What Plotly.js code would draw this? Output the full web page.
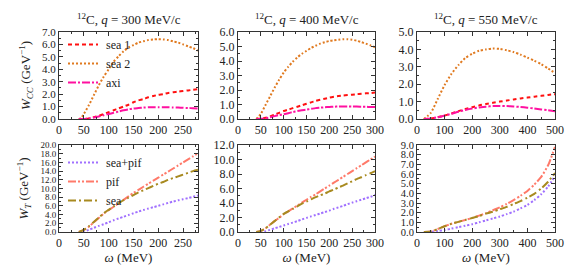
<!DOCTYPE html>
<html><head><meta charset="utf-8">
<script src="https://cdn.plot.ly/plotly-3.0.1.min.js"></script>
<style>html,body{margin:0;padding:0;background:#fff}#c{width:568px;height:273px}</style>
</head><body><div id="c"></div>
<script>
// ---- Panel 1 (q=300) W_CC ----
const w1 = [40,45,50,60,70,80,90,100,110,120,130,140,150,160,170,180,190,200,210,220,230,240,250,260,270,280];
const p1_sea2 = [0,0.1,0.4,1.1,1.9,2.7,3.4,4.0,4.6,5.05,5.45,5.75,5.95,6.15,6.25,6.35,6.4,6.42,6.4,6.35,6.25,6.15,6.0,5.85,5.7,5.5];
const p1_sea1 = [0,0,0,0.05,0.15,0.25,0.4,0.55,0.7,0.85,1.0,1.15,1.35,1.5,1.6,1.75,1.85,1.95,2.0,2.1,2.15,2.2,2.25,2.3,2.35,2.4];
const p1_axi  = [0,0,0,0.05,0.12,0.2,0.3,0.4,0.5,0.6,0.7,0.78,0.84,0.88,0.92,0.94,0.95,0.95,0.95,0.94,0.93,0.92,0.9,0.88,0.87,0.85];
// ---- Panel 2 (q=400) W_CC ----
const w2 = [40,50,60,70,80,90,100,110,120,130,140,150,160,170,180,190,200,210,220,230,240,250,260,270,280,290,300];
const p2_sea2 = [0,0.35,0.95,1.55,2.15,2.7,3.2,3.6,3.95,4.25,4.5,4.7,4.9,5.05,5.2,5.3,5.38,5.43,5.47,5.5,5.5,5.47,5.4,5.3,5.2,5.08,4.95];
const p2_sea1 = [0,0.02,0.08,0.18,0.3,0.42,0.55,0.65,0.75,0.85,0.95,1.05,1.15,1.25,1.33,1.4,1.47,1.53,1.58,1.62,1.65,1.68,1.71,1.74,1.77,1.79,1.82];
const p2_axi  = [0,0.01,0.05,0.12,0.2,0.27,0.33,0.4,0.48,0.55,0.6,0.65,0.7,0.75,0.78,0.81,0.83,0.85,0.86,0.87,0.87,0.86,0.86,0.85,0.84,0.83,0.82];
// ---- Panel 3 (q=550) W_CC ----
const w3 = [25,50,75,100,125,150,175,200,225,250,275,300,325,350,375,400,425,450,475,500];
const p3_sea2 = [0,0.35,1.15,1.95,2.6,3.1,3.5,3.75,3.92,4.0,4.05,4.03,3.95,3.85,3.7,3.53,3.35,3.15,2.9,2.65];
const p3_sea1 = [0,0.03,0.1,0.2,0.32,0.45,0.57,0.68,0.78,0.86,0.93,1.0,1.06,1.12,1.18,1.23,1.28,1.33,1.38,1.43];
const p3_axi  = [0,0.03,0.1,0.2,0.3,0.42,0.52,0.6,0.66,0.71,0.74,0.75,0.74,0.72,0.69,0.65,0.6,0.55,0.5,0.45];
// ---- Panel 4 (q=300) W_T ----
const w4 = [40,50,60,70,80,90,100,110,120,130,140,150,160,170,180,190,200,210,220,230,240,250,260,270,280];
const p4_pif = [0,0.5,1.2,2.2,3.2,4.2,5.0,5.8,6.6,7.4,8.2,9.0,9.7,10.4,11.1,11.8,12.5,13.2,13.9,14.6,15.3,16.0,16.7,17.4,18.1];
const p4_sea = [0,0.5,1.3,2.3,3.3,4.3,5.1,5.9,6.6,7.3,7.9,8.5,9.1,9.6,10.1,10.6,11.1,11.5,12.0,12.4,12.8,13.2,13.6,14.0,14.3];
const p4_sp  = [0,0.1,0.5,0.95,1.4,1.8,2.25,2.7,3.1,3.5,3.9,4.3,4.7,5.05,5.4,5.7,6.0,6.35,6.7,7.0,7.3,7.55,7.8,8.1,8.4];
// ---- Panel 5 (q=400) W_T ----
const w5 = [40,50,60,70,80,90,100,110,120,130,140,150,160,170,180,190,200,210,220,230,240,250,260,270,280,290,300];
const p5_pif = [0,0.15,0.5,1.0,1.5,1.95,2.45,2.85,3.25,3.65,4.05,4.45,4.85,5.2,5.6,6.0,6.4,6.8,7.2,7.6,8.0,8.4,8.8,9.2,9.6,10.0,10.4];
const p5_sea = [0,0.15,0.5,1.0,1.5,2.0,2.5,2.85,3.2,3.55,3.9,4.2,4.5,4.8,5.05,5.3,5.6,5.85,6.15,6.4,6.7,7.0,7.3,7.55,7.85,8.1,8.4];
const p5_sp  = [0,0,0.1,0.3,0.5,0.7,0.9,1.1,1.3,1.5,1.75,1.95,2.15,2.35,2.55,2.75,2.95,3.2,3.4,3.6,3.85,4.05,4.25,4.45,4.65,4.85,5.1];
// ---- Panel 6 (q=550) W_T ----
const w6 = [25,50,75,100,125,150,175,200,225,250,275,300,325,350,375,400,425,450,475,500];
const p6_pif = [0,0.05,0.3,0.6,0.85,1.05,1.25,1.45,1.7,1.95,2.25,2.55,2.9,3.3,3.75,4.25,4.9,5.7,6.9,8.8];
const p6_sea = [0,0.05,0.3,0.6,0.85,1.05,1.25,1.45,1.65,1.9,2.1,2.35,2.6,2.9,3.2,3.55,3.95,4.5,5.2,6.1];
const p6_sp  = [0,0.02,0.1,0.2,0.35,0.5,0.65,0.8,1.0,1.2,1.4,1.6,1.85,2.1,2.45,2.8,3.3,3.9,4.7,5.8];

const names = {sea1:'sea 1', sea2:'sea 2', axi:'axi', sp:'sea+pif', pif:'pif', sea:'sea'};
const titles = ['300','400','550'];

const sty = {
  sea1:{color:'#ff1010', dash:'4px,3px', width:2},
  sea2:{color:'#e07a20', dash:'2px,2px', width:2},
  axi:{color:'#ff10a0', dash:'8px,2px,2px,2px', width:2},
  sp:{color:'#a070ff', dash:'2px,2px', width:2},
  pif:{color:'#ff7a6a', dash:'8px,2px,2px,2px,2px,2px', width:2},
  sea:{color:'#a88a20', dash:'8px,3px,2px,3px', width:2}
};
function tr(x,y,key,ax,ay,leg,show){
  return {x:x,y:y,type:'scatter',mode:'lines',name:'\u00a0'+names[key],xaxis:ax,yaxis:ay,
    line:Object.assign({shape:'spline',smoothing:0.6},sty[key]),showlegend:show,legend:leg};
}
const data = [
  tr(w1,p1_sea1,'sea1','x','y','legend',true),
  tr(w1,p1_sea2,'sea2','x','y','legend',true),
  tr(w1,p1_axi,'axi','x','y','legend',true),
  tr(w2,p2_sea1,'sea1','x2','y2','legend',false),
  tr(w2,p2_sea2,'sea2','x2','y2','legend',false),
  tr(w2,p2_axi,'axi','x2','y2','legend',false),
  tr(w3,p3_sea1,'sea1','x3','y3','legend',false),
  tr(w3,p3_sea2,'sea2','x3','y3','legend',false),
  tr(w3,p3_axi,'axi','x3','y3','legend',false),
  tr(w4,p4_sp,'sp','x4','y4','legend2',true),
  tr(w4,p4_pif,'pif','x4','y4','legend2',true),
  tr(w4,p4_sea,'sea','x4','y4','legend2',true),
  tr(w5,p5_sp,'sp','x5','y5','legend2',false),
  tr(w5,p5_pif,'pif','x5','y5','legend2',false),
  tr(w5,p5_sea,'sea','x5','y5','legend2',false),
  tr(w6,p6_sp,'sp','x6','y6','legend2',false),
  tr(w6,p6_pif,'pif','x6','y6','legend2',false),
  tr(w6,p6_sea,'sea','x6','y6','legend2',false)
];

const W=568,H=273;
const cols=[[59,198],[238,375],[417,555]];
const rows=[[32,119],[145,232]];
const xr=[[0,280],[0,300],[0,500]];
const xd=[50,50,100];
const yr=[[0,7],[0,6],[0,5],[0,20],[0,12],[0,9]];
const yd=[1,1,1,2,2,1];
const ytf=[11,12,12,9,12,10.5];
const FF='Liberation Serif';
const font={family:FF,size:12,color:'#222'};
const layout={width:W,height:H,margin:{l:0,r:0,t:0,b:0},paper_bgcolor:'#fff',plot_bgcolor:'#fff',
  font:font,annotations:[],
  legend:{x:63/W,y:1-30/H,xanchor:'left',yanchor:'top',bgcolor:'rgba(0,0,0,0)',font:{family:FF,size:12,color:'#222'},tracegroupgap:0,itemwidth:30},
  legend2:{x:63/W,y:1-148/H,xanchor:'left',yanchor:'top',bgcolor:'rgba(0,0,0,0)',font:{family:FF,size:12,color:'#222'},tracegroupgap:0,itemwidth:30}
};
for(let i=0;i<6;i++){
  const c=i%3,r=Math.floor(i/3);
  const sx=i===0?'':String(i+1);
  layout['xaxis'+sx]={domain:[cols[c][0]/W,cols[c][1]/W],anchor:'y'+sx,range:xr[c],dtick:xd[c],tickangle:0,
    ticks:'inside',ticklen:4,tickcolor:'#333',showline:true,linecolor:'#333',linewidth:1,mirror:'ticks',
    showgrid:false,zeroline:false,tickfont:{family:FF,size:12,color:'#222'},
    minor:{ticks:'inside',ticklen:2,dtick:xd[c]/2,tickcolor:'#333'}};
  if(r===1) layout['xaxis'+sx].title={text:'<i>ω</i> (MeV)',font:{family:FF,size:13,color:'#222'},standoff:2};
  layout['yaxis'+sx]={domain:[1-rows[r][1]/H,1-rows[r][0]/H],anchor:'x'+sx,range:yr[i],dtick:yd[i],
    tickformat:'.1f',ticks:'inside',ticklen:4,tickcolor:'#333',showline:true,linecolor:'#333',linewidth:1,mirror:'ticks',
    showgrid:false,zeroline:true,zerolinecolor:'#999',zerolinewidth:2,tickfont:{family:FF,size:ytf[i],color:'#222'},
    minor:{ticks:'inside',ticklen:2,dtick:yd[i]/2,tickcolor:'#333'}};
  if(i===0) layout['yaxis'+sx].title={text:'<i>W<sub>CC</sub></i> (GeV<sup>−1</sup>)',font:{family:FF,size:13,color:'#222'},standoff:8};
  if(i===3) layout['yaxis'+sx].title={text:'<i>W<sub>T</sub></i> (GeV<sup>−1</sup>)',font:{family:FF,size:13,color:'#222'},standoff:8};
}
for(let c=0;c<3;c++){
  layout.annotations.push({xref:'paper',yref:'paper',x:(cols[c][0]+cols[c][1])/2/W,y:1-19/H,xanchor:'center',yanchor:'middle',
    showarrow:false,text:'<sup>12</sup>C, <i>q</i> = '+titles[c]+' MeV/c',font:{family:FF,size:13,color:'#222'}});
}
Plotly.newPlot('c',data,layout,{staticPlot:true});
</script></body></html>
